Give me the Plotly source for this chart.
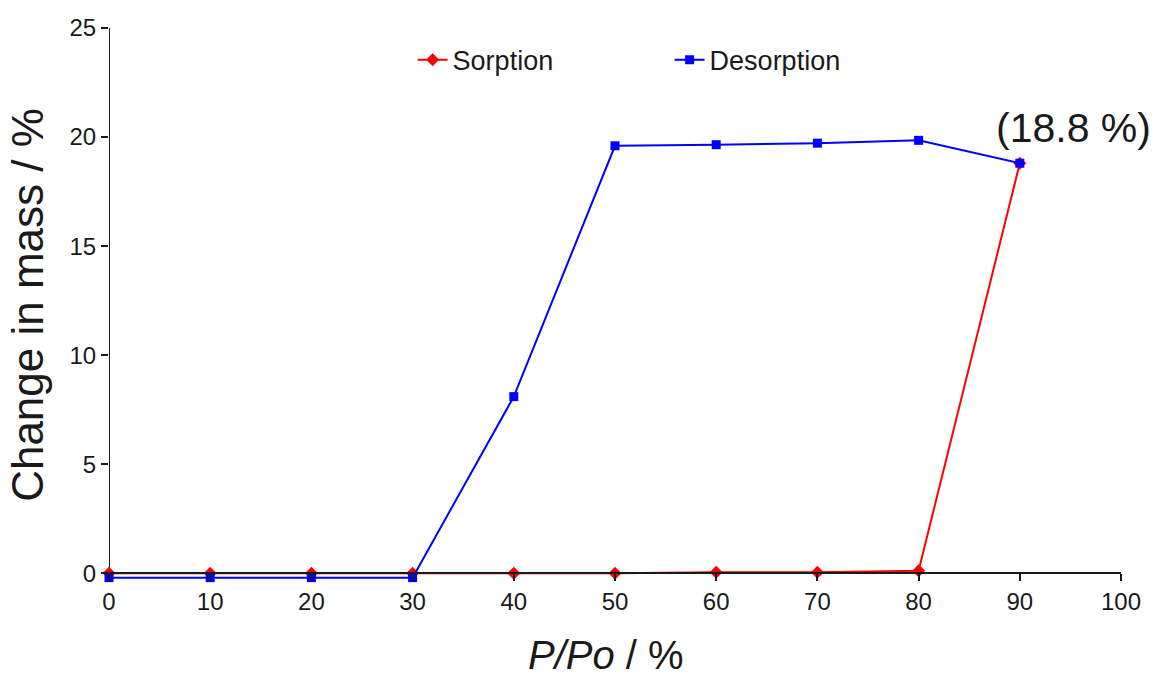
import plotly.graph_objects as go

pressure = [0, 10, 20, 30, 40, 50, 60, 70, 80, 90]
sorption = [0.0, 0.0, 0.0, 0.0, 0.0, 0.0, 0.05, 0.05, 0.12, 18.8]
desorption = [-0.2, -0.2, -0.2, -0.2, 8.1, 19.6, 19.65, 19.72, 19.85, 18.8]
x_ticks = [0, 10, 20, 30, 40, 50, 60, 70, 80, 90, 100]
y_ticks = [0, 5, 10, 15, 20, 25]

Y_MIN = -0.4
Y_MAX = 25

FONT = "Liberation Sans, Arial, sans-serif"
INK = "#1a1a1a"

fig = go.Figure()
fig.add_trace(go.Scatter(
    x=pressure, y=sorption, name="Sorption", mode="lines+markers",
    line=dict(color="#ff0000", width=2),
    marker=dict(symbol="diamond", size=10, color="#ff0000"),
    cliponaxis=False,
))
fig.add_trace(go.Scatter(
    x=pressure, y=desorption, name="Desorption", mode="lines+markers",
    line=dict(color="#0000ff", width=2),
    marker=dict(symbol="square", size=9, color="#0000ff"),
    cliponaxis=False,
))

# y-axis line from 0 up to the top of the range
fig.add_shape(type="line", xref="x", yref="y", x0=0, x1=0, y0=0, y1=Y_MAX,
              line=dict(color=INK, width=2), layer="below")

fig.add_annotation(
    x=90, y=18.8, text="(18.8 %)", showarrow=False,
    xanchor="center", yanchor="bottom", xshift=54, yshift=10,
    font=dict(size=41, color=INK, family=FONT),
)

# x-axis title
fig.add_annotation(
    xref="paper", yref="paper", x=0.5, y=-(655 - 582) / 554,
    xanchor="center", yanchor="middle", xshift=-9, showarrow=False,
    text="<i>P/Po</i> / %", font=dict(size=40, color=INK, family=FONT),
)

fig.update_layout(
    width=1156, height=682,
    margin=dict(l=109, r=35, t=28, b=100),
    paper_bgcolor="white", plot_bgcolor="white",
    font=dict(family=FONT, color=INK),
    showlegend=True,
    legend=dict(
        orientation="h", x=0.3, y=0.942, xanchor="left", yanchor="middle",
        font=dict(size=27, color=INK),
        entrywidth=212, entrywidthmode="pixels",
        itemwidth=30, bgcolor="rgba(0,0,0,0)",
    ),
    xaxis=dict(
        range=[0, 100], tickvals=x_ticks, ticktext=[str(v) for v in x_ticks],
        anchor="free", position=(0 - Y_MIN) / (Y_MAX - Y_MIN),
        showline=True, linecolor=INK, linewidth=2,
        ticks="outside", ticklen=7, tickwidth=2, tickcolor=INK,
        showgrid=False, zeroline=False,
        tickfont=dict(size=24, color=INK),
    ),
    yaxis=dict(
        range=[Y_MIN, Y_MAX], tickvals=y_ticks, ticktext=[str(v) for v in y_ticks],
        showline=False,
        ticks="outside", ticklen=7, tickwidth=2, tickcolor=INK,
        showgrid=False, zeroline=False,
        tickfont=dict(size=24, color=INK),
        title=dict(text="Change in mass / %", font=dict(size=44, color=INK), standoff=12),
    ),
)

fig.write_html("out.html")
